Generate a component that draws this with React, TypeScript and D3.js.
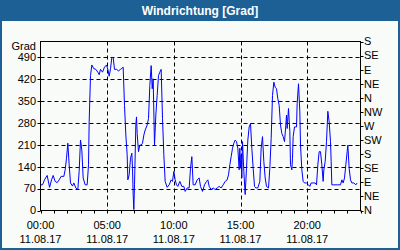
import React from "react";
import * as d3 from "d3";

const title = "Windrichtung [Grad]";
const leftTicks = [0, 70, 140, 210, 280, 350, 420, 490];
const rightTickLabels = ["N", "NE", "E", "SE", "S", "SW", "W", "NW", "N", "NE", "E", "SE", "S"];
const xTickHours = [0, 5, 10, 15, 20];
const xTickTimes = ["00:00", "05:00", "10:00", "15:00", "20:00"];
const dateLabel = "11.08.17";

const hours = [
  0, 0.15, 0.3, 0.5, 0.68, 0.83, 0.95, 1.1, 1.25, 1.4, 1.55, 1.75, 1.85, 1.95, 2.05, 2.15, 2.25, 2.4, 2.5, 2.65, 2.8, 2.9, 3.0, 3.1, 3.2, 3.35, 3.5, 3.6, 3.65, 3.75, 3.85, 4.0, 4.15, 4.3, 4.4, 4.5, 4.65, 4.8, 4.95, 5.05, 5.15, 5.25, 5.35, 5.45, 5.55, 5.7, 5.85,
  6, 6.1, 6.2, 6.3, 6.4, 6.5, 6.55, 6.65, 6.75, 6.85, 6.9, 6.95, 7.0, 7.05, 7.15, 7.2, 7.25, 7.35, 7.45, 7.55, 7.65, 7.75, 7.85, 8.0, 8.1, 8.2, 8.3, 8.38, 8.45, 8.55, 8.65, 8.75, 8.85, 8.95, 9.05, 9.15, 9.25, 9.35, 9.5, 9.65, 9.8, 9.9, 10.0, 10.1, 10.2, 10.3, 10.45, 10.6, 10.75, 10.85, 11.0, 11.15, 11.25, 11.35, 11.45, 11.6, 11.75, 11.9,
  12, 12.15, 12.3, 12.45, 12.55, 12.65, 12.8, 12.95, 13.1, 13.25, 13.4, 13.55, 13.7, 13.85, 14.0, 14.1, 14.2, 14.3, 14.4, 14.5, 14.6, 14.7, 14.8, 14.9, 14.95, 15.0, 15.05, 15.1, 15.15, 15.25, 15.35, 15.45, 15.55, 15.65, 15.75, 15.85, 15.95, 16.05, 16.15, 16.3, 16.45, 16.55, 16.65, 16.75, 16.85, 16.95, 17.1, 17.2, 17.3, 17.4, 17.5, 17.6, 17.7, 17.8, 17.9,
  18, 18.1, 18.2, 18.3, 18.4, 18.45, 18.5, 18.6, 18.7, 18.75, 18.85, 18.9, 18.95, 19.05, 19.2, 19.25, 19.35, 19.45, 19.5, 19.6, 19.7, 19.8, 19.95, 20.1, 20.2, 20.3, 20.45, 20.6, 20.7, 20.8, 20.9, 21.0, 21.1, 21.2, 21.25, 21.35, 21.45, 21.55, 21.65, 21.75, 21.8, 21.85, 22.0, 22.25, 22.5, 22.6, 22.7, 22.8, 22.9, 23.0, 23.05, 23.15, 23.25, 23.35, 23.5, 23.65, 23.75,
];

const degrees = [
  82, 82, 98, 112, 74, 98, 112, 93, 89, 98, 109, 109, 130, 167, 215, 146, 88, 78, 88, 72, 67, 125, 225, 193, 104, 82, 82, 146, 283, 431, 465, 453, 451, 442, 434, 451, 442, 458, 465, 451, 429, 453, 489, 489, 451, 451, 446,
  451, 454, 458, 336, 241, 178, 98, 114, 167, 183, 135, 51, 3, 82, 273, 299, 246, 188, 209, 209, 215, 241, 257, 273, 294, 400, 463, 389, 421, 209, 305, 368, 431, 442, 451, 294, 178, 93, 74, 82, 98, 93, 125, 98, 82, 77, 93, 77, 77, 61, 72, 72, 135, 172, 82, 82, 98, 104,
  77, 61, 82, 93, 98, 77, 67, 72, 67, 72, 77, 72, 82, 93, 98, 114, 146, 172, 199, 215, 225, 220, 199, 130, 199, 135, 178, 104, 220, 125, 51, 135, 225, 267, 278, 199, 135, 77, 72, 72, 93, 199, 236, 156, 104, 77, 72, 135, 230, 368, 410, 394, 389, 357, 336,
  273, 246, 236, 220, 273, 305, 262, 326, 252, 146, 130, 167, 236, 267, 267, 342, 405, 315, 209, 130, 93, 88, 88, 82, 77, 88, 88, 88, 82, 146, 188, 188, 146, 93, 130, 156, 220, 317, 283, 220, 156, 82, 82, 82, 82, 98, 88, 104, 146, 188, 209, 135, 98, 88, 88, 82, 88,
];

const W = 400;
const H = 250;
const PL = 40.5;
const PR = 360.5;
const PT = 41.5;
const PB = 210.5;
const FONT = "'Liberation Sans', Arial, sans-serif";

export default function App() {
  const x = d3.scaleLinear().domain([0, 24]).range([PL, PR]);
  const y = d3.scaleLinear().domain([0, 540]).range([PB, PT]);
  const yRight = d3.scaleLinear().domain([0, rightTickLabels.length - 1]).range([PB, PT]);

  const pts: [number, number][] = hours.map((h, i) => [h, degrees[i]]);
  const line = d3
    .line<[number, number]>()
    .x((d) => x(d[0]))
    .y((d) => y(d[1]));

  const hourTicks = d3.range(0, 25);

  return (
    <svg
      width={W}
      height={H}
      style={{ position: "fixed", left: 0, top: 0, display: "block" }}
      fontFamily={FONT}
    >
      <rect x={0} y={0} width={W} height={H} fill="#f8fbf8" />
      <rect x={0} y={0} width={W} height={21} fill="#1d6096" />
      <rect x={1} y={1} width={W - 2} height={H - 2} fill="none" stroke="#1d6096" strokeWidth={2} />
      <text x={W / 2} y={15} textAnchor="middle" fill="#ffffff" fontSize={12} fontWeight="bold">
        {title}
      </text>

      {/* horizontal grid */}
      {leftTicks.slice(1).map((v) => (
        <line
          key={"hg" + v}
          x1={PL}
          x2={PR}
          y1={Math.round(y(v)) + 0.5}
          y2={Math.round(y(v)) + 0.5}
          stroke="#000"
          strokeDasharray="4,3"
        />
      ))}
      {/* vertical grid */}
      {xTickHours.slice(1).map((h) => (
        <line
          key={"vg" + h}
          x1={Math.round(x(h)) + 0.5}
          x2={Math.round(x(h)) + 0.5}
          y1={PT}
          y2={PB}
          stroke="#000"
          strokeDasharray="4,3"
        />
      ))}

      {/* data line */}
      <path d={line(pts) || ""} fill="none" stroke="#0000ff" strokeWidth={1} />

      {/* frame */}
      <rect x={PL} y={PT} width={PR - PL} height={PB - PT} fill="none" stroke="#000" />

      {/* left ticks & labels */}
      {leftTicks.map((v) => (
        <g key={"lt" + v}>
          <line x1={PL - 3} x2={PL} y1={Math.round(y(v)) + 0.5} y2={Math.round(y(v)) + 0.5} stroke="#000" />
          <text x={36} y={y(v)} dy="0.35em" textAnchor="end" fontSize={11} fill="#000">
            {v}
          </text>
        </g>
      ))}
      <text x={36} y={46} dy="0.35em" textAnchor="end" fontSize={11} fill="#000">
        Grad
      </text>

      {/* right ticks & labels */}
      {rightTickLabels.map((lab, i) => (
        <g key={"rt" + i}>
          <line
            x1={PR}
            x2={PR + 3}
            y1={Math.round(yRight(i)) + 0.5}
            y2={Math.round(yRight(i)) + 0.5}
            stroke="#000"
          />
          <text x={364} y={yRight(i)} dy="0.35em" textAnchor="start" fontSize={11} fill="#000">
            {lab}
          </text>
        </g>
      ))}

      {/* bottom ticks */}
      {hourTicks.map((h) => (
        <line
          key={"bt" + h}
          x1={Math.round(x(h)) + 0.5}
          x2={Math.round(x(h)) + 0.5}
          y1={PB}
          y2={PB + 3}
          stroke="#000"
        />
      ))}
      {xTickHours.map((h, i) => (
        <g key={"bl" + h}>
          <text x={x(h)} y={225} dy="0.35em" textAnchor="middle" fontSize={11} fill="#000">
            {xTickTimes[i]}
          </text>
          <text x={x(h)} y={239} dy="0.35em" textAnchor="middle" fontSize={11} fill="#000">
            {dateLabel}
          </text>
        </g>
      ))}
    </svg>
  );
}
